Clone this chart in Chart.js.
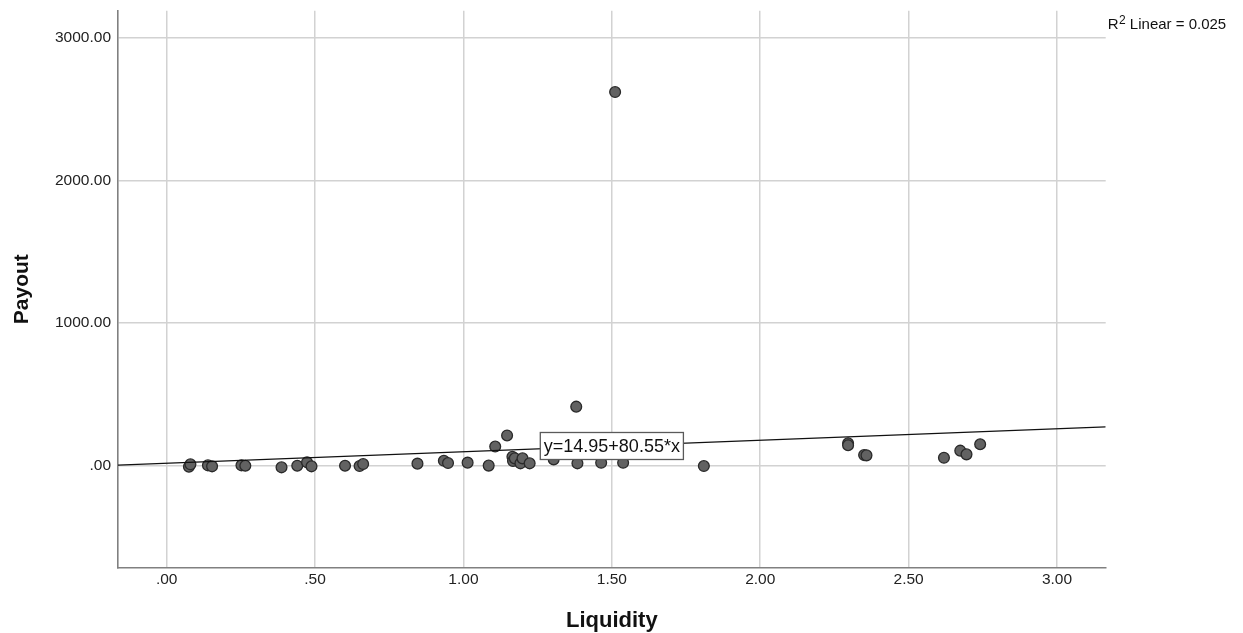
<!DOCTYPE html>
<html>
<head>
<meta charset="utf-8">
<script src="https://cdn.jsdelivr.net/npm/chart.js@4/dist/chart.umd.min.js"></script>
<style>
  html, body { margin: 0; padding: 0; background: #ffffff; }
  canvas { display: block; }
</style>
</head>
<body>
<canvas id="scatterChart" width="1243" height="633"></canvas>
<script>

// ======================
// DATA
// ======================

const liquidity = [
  0.075, 0.080, 0.139, 0.153, 0.252, 0.265, 0.387, 0.440, 0.473, 0.488,
  0.601, 0.650, 0.662, 0.845, 0.934, 0.948, 1.014, 1.085, 1.107, 1.147,
  1.165, 1.167, 1.173, 1.192, 1.199, 1.223, 1.304, 1.380, 1.384, 1.464,
  1.511, 1.538, 1.810, 2.296, 2.296, 2.350, 2.358, 2.619, 2.674, 2.695,
  2.741
];

const payout = [
  -10, 7, 0, -7, 0, -3, -14, -3, 21, -7,
  -3, -5, 9, 12, 32, 16, 19, -2, 132, 210,
  60, 30, 49, 14, 49, 14, 42, 412, 14, 18,
  2621, 18, -5, 155, 141, 72, 70, 53, 103, 77,
  148
];

const xTickValues = [0, 0.5, 1, 1.5, 2, 2.5, 3];
const yTickValues = [0, 1000, 2000, 3000];

const fitIntercept = 14.95;
const fitSlope = 80.55;
const rSquared = "0.025";

const xMin = -0.164;
const xMax = 3.164;
const yMin = -718;
const yMax = 3192;


// ======================
// STYLE
// ======================

const fontFamily = "'Liberation Sans', Arial, sans-serif";
const gridColor = "#d2d2d2";
const axisColor = "#808080";


// ======================
// HELPERS
// ======================

function spssNumber(value) {

  let text = value.toFixed(2);

  if(text.startsWith("0.")) {
    text = text.slice(1);
  }

  return text;

}

function fitValue(x) {
  return fitIntercept + fitSlope * x;
}


// ======================
// BUILD POINTS
// ======================

const points = liquidity.map((x, i) => ({
  x,
  y: payout[i]
}));

const fitPoints = [xMin, xMax].map(x => ({
  x,
  y: fitValue(x)
}));


// ======================
// ANNOTATIONS PLUGIN
// ======================

const annotationsPlugin = {

  id: "annotations",

  afterDatasetsDraw(chart) {

    const ctx = chart.ctx;
    const area = chart.chartArea;
    const xScale = chart.scales.x;
    const yScale = chart.scales.y;

    // fit line label, centred on the line in the middle of the plot
    const midX = (xMin + xMax) / 2;
    const px = xScale.getPixelForValue(midX);
    const py = yScale.getPixelForValue(fitValue(midX));

    const label =
      "y=" + fitIntercept.toFixed(2) + "+" + fitSlope.toFixed(2) + "*x";

    ctx.save();

    ctx.font = "18px " + fontFamily;

    const boxWidth = ctx.measureText(label).width + 7;
    const boxHeight = 27;

    ctx.fillStyle = "#ffffff";
    ctx.fillRect(px - boxWidth / 2, py - boxHeight / 2, boxWidth, boxHeight);

    ctx.strokeStyle = "#5a5a5a";
    ctx.lineWidth = 1.3;
    ctx.strokeRect(px - boxWidth / 2, py - boxHeight / 2, boxWidth, boxHeight);

    ctx.fillStyle = "#111111";
    ctx.textAlign = "center";
    ctx.textBaseline = "middle";
    ctx.fillText(label, px, py + 1);

    // R squared note, top right outside the plot
    const noteX = area.right + 2;
    const noteY = 29;

    ctx.textAlign = "left";
    ctx.textBaseline = "alphabetic";
    ctx.fillStyle = "#111111";

    ctx.font = "15px " + fontFamily;
    ctx.fillText("R", noteX, noteY);

    let cursor = noteX + ctx.measureText("R").width + 0.5;

    ctx.font = "12px " + fontFamily;
    ctx.fillText("2", cursor, noteY - 5);

    cursor += ctx.measureText("2").width;

    ctx.font = "15px " + fontFamily;
    ctx.fillText(" Linear = " + rSquared, cursor, noteY);

    ctx.restore();

  }

};


// ======================
// CHART
// ======================

const canvas =
  document.getElementById(
    "scatterChart"
  );

new Chart(canvas, {

  type: "scatter",

  data: {

    datasets: [

      {
        type: "line",
        label: "Fit",
        data: fitPoints,
        borderColor: "#111111",
        borderWidth: 1.3,
        pointRadius: 0,
        fill: false,
        order: 0
      },

      {
        label: "Payout",
        data: points,
        backgroundColor: "#626262",
        borderColor: "#2a2a2a",
        borderWidth: 1.3,
        pointRadius: 5.4,
        pointHoverRadius: 5.4,
        order: 1
      }

    ]

  },

  options: {

    responsive: false,
    animation: false,

    layout: {
      padding: {
        top: 10.7,
        right: 137.3,
        left: 0,
        bottom: 0
      }
    },

    plugins: {
      legend: { display: false },
      tooltip: { enabled: false }
    },

    scales: {

      x: {
        type: "linear",
        min: xMin,
        max: xMax,
        afterBuildTicks(scale) {
          scale.ticks = xTickValues.map(value => ({ value }));
        },
        afterFit(scale) {
          scale.height = 65.4;
          scale.paddingLeft = 0;
          scale.paddingRight = 0;
        },
        ticks: {
          padding: 3,
          color: "#222222",
          font: { family: fontFamily, size: 15.5 },
          callback: value => spssNumber(value)
        },
        grid: {
          color: gridColor,
          lineWidth: 1.5,
          drawTicks: false
        },
        border: {
          display: true,
          color: axisColor,
          width: 1.6
        },
        title: {
          display: true,
          text: "Liquidity",
          color: "#111111",
          font: { family: fontFamily, size: 22, weight: "bold" },
          padding: { top: 0, bottom: -1.5 }
        }
      },

      y: {
        type: "linear",
        min: yMin,
        max: yMax,
        afterBuildTicks(scale) {
          scale.ticks = yTickValues.map(value => ({ value }));
        },
        afterFit(scale) {
          scale.width = 118;
          scale.paddingTop = 0;
          scale.paddingBottom = 0;
        },
        ticks: {
          padding: 7,
          color: "#222222",
          font: { family: fontFamily, size: 15.5 },
          callback: value => spssNumber(value)
        },
        grid: {
          color: gridColor,
          lineWidth: 1.5,
          drawTicks: false
        },
        border: {
          display: true,
          color: axisColor,
          width: 1.6
        },
        title: {
          display: true,
          text: "Payout",
          color: "#111111",
          font: { family: fontFamily, size: 21, weight: "bold" },
          padding: { top: 10, bottom: 0 }
        }
      }

    }

  },

  plugins: [annotationsPlugin]

});

</script>
</body>
</html>
